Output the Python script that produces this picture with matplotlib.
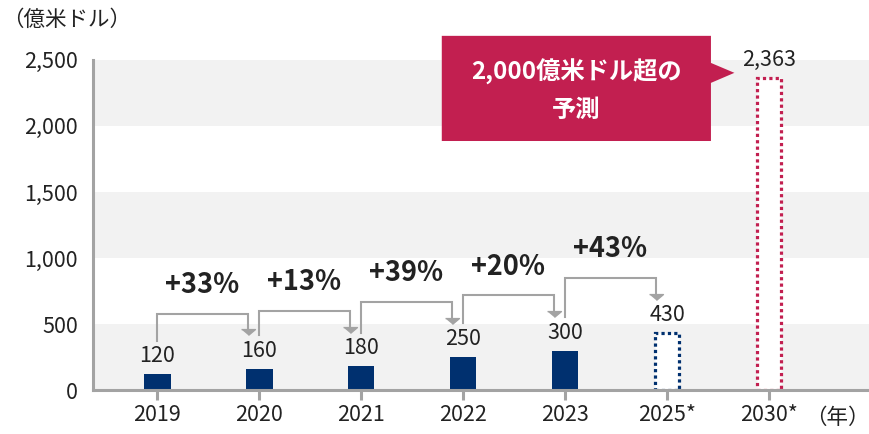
import matplotlib.pyplot as plt
from matplotlib.patches import Polygon

plt.rcParams['font.family'] = ['Noto Sans CJK JP', 'DejaVu Sans']

# data
years = ['2019', '2020', '2021', '2022', '2023', '2025*', '2030*']
values = [120, 160, 180, 250, 300, 430, 2363]
forecast = [False, False, False, False, False, True, True]
growth = ['+33%', '+13%', '+39%', '+20%', '+43%']

navy = '#00306F'
crimson = '#C21F50'
band = '#F2F2F2'
gray = '#A3A3A3'
txt = '#222222'

fig = plt.figure(figsize=(8.7, 4.34), dpi=100)
ax = fig.add_axes([0.107, 0.101, 0.893, 0.761])

x = list(range(len(years)))
ax.set_xlim(-0.63, 6.99)
ax.set_ylim(0, 2500)

# background bands
for lo in (0, 1000, 2000):
    ax.axhspan(lo, lo + 500, color=band, zorder=0, lw=0)

# bars
w = 0.26
for i, (v, fc) in enumerate(zip(values, forecast)):
    if not fc:
        ax.bar(i, v, width=w, color=navy, zorder=3)
    else:
        ec = crimson if years[i].startswith('2030') else navy
        ax.bar(i, v, width=w - 0.02, facecolor='white', edgecolor=ec,
               linewidth=2.3, linestyle=(0, (1, 1)), zorder=3)
    ax.annotate(f'{v:,}', (i, v), xytext=(0, 5), textcoords='offset points',
                ha='center', va='bottom', fontsize=15.5, color=txt, zorder=4)

# growth brackets
off = 255
for i, g in enumerate(growth):
    y0 = values[i] + off
    y1 = values[i + 1] + off
    top = max(y0, y1) + 165
    xe = i + 0.89
    ax.plot([i, i, xe, xe], [y0, top, top, y1 + 22], color=gray, lw=1.5,
            zorder=2, solid_joinstyle='miter')
    ax.plot(xe, y1 + 22, marker=[(-1, 0.42), (1, 0.42), (0, -0.42)],
            markersize=10, color=gray, zorder=2)
    ax.text(i + 0.44, top + 215, g, ha='center', va='center', fontsize=19.5,
            fontweight='bold', color=txt)

# callout
box = Polygon([(2.79, 2682), (5.43, 2682), (5.43, 2477), (5.66, 2402),
               (5.43, 2326), (5.43, 1886), (2.79, 1886)],
              closed=True, facecolor=crimson, edgecolor='none',
              clip_on=False, zorder=5)
ax.add_patch(box)
ax.text(4.11, 2409, '2,000億米ドル超の', ha='center', va='center',
        fontsize=17.5, fontweight='bold', color='white', zorder=6, clip_on=False)
ax.text(4.11, 2121, '予測', ha='center', va='center',
        fontsize=17.5, fontweight='bold', color='white', zorder=6, clip_on=False)

# axes styling
ax.set_xticks(x)
ax.set_xticklabels(years)
ax.set_yticks([0, 500, 1000, 1500, 2000, 2500])
ax.set_yticklabels([f'{t:,}' for t in [0, 500, 1000, 1500, 2000, 2500]])
ax.tick_params(axis='x', length=7, width=2.2, color=gray, pad=3,
               labelsize=15.5, labelcolor=txt)
ax.tick_params(axis='y', length=0, pad=11, labelsize=15.5, labelcolor=txt)
for s in ('top', 'right'):
    ax.spines[s].set_visible(False)
for s in ('left', 'bottom'):
    ax.spines[s].set_color(gray)
    ax.spines[s].set_linewidth(2.2)
    ax.spines[s].set_zorder(4)

fig.text(0.002, 0.955, '（億米ドル）', ha='left', va='center', fontsize=15.5, color=txt)
fig.text(0.999, 0.037, '（年）', ha='right', va='center', fontsize=15.5, color=txt)

fig.savefig('out.png', dpi=100)
